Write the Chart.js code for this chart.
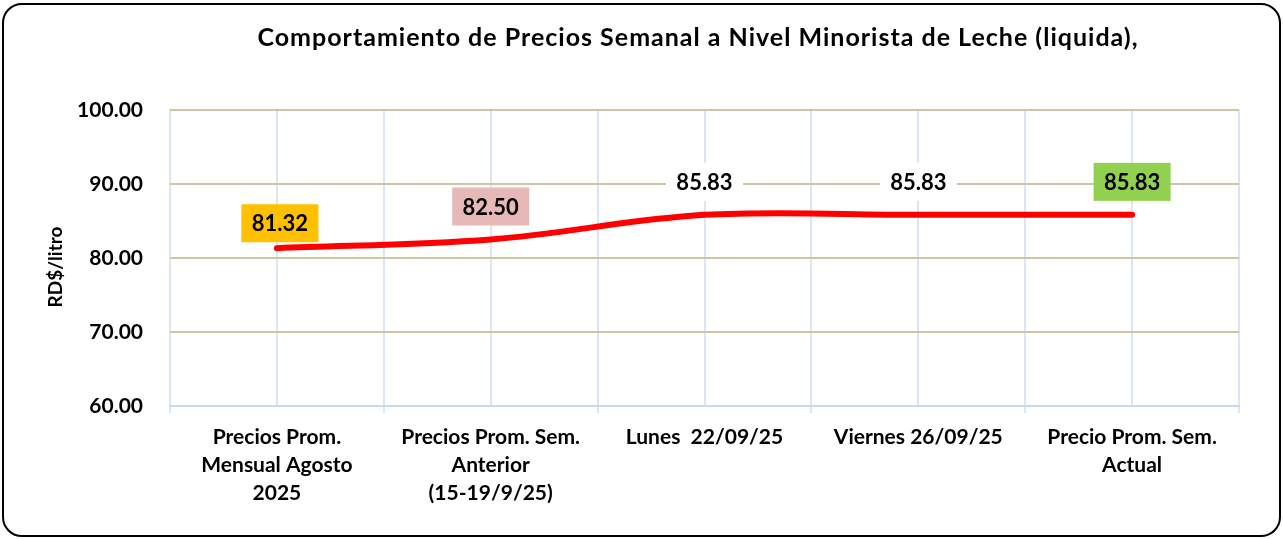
<!DOCTYPE html>
<html>
<head>
<meta charset="utf-8">
<script src="https://cdn.jsdelivr.net/npm/chart.js@4"></script>
<style>
  html, body { margin: 0; padding: 0; background: #fff; }
  #wrap { position: relative; width: 1283px; height: 539px; overflow: hidden; }
  #frame { position: absolute; left: 2px; top: 3px; width: 1275px; height: 530px;
           border: 2px solid #000; border-radius: 20px; box-sizing: content-box; pointer-events: none; }
  canvas { position: absolute; left: 0; top: 0; }
</style>
</head>
<body>
<div id="wrap">
  <canvas id="myChart" width="1283" height="539"></canvas>
  <div id="frame"></div>
</div>
<script>
"use strict";

const chartTitle = "Comportamiento de Precios Semanal a Nivel Minorista de Leche (liquida),";
const yTitle = "RD$/litro";
const categories = [
  ["Precios Prom.", "Mensual Agosto", "2025"],
  ["Precios Prom. Sem.", "Anterior", "(15-19/9/25)"],
  ["Lunes  22/09/25"],
  ["Viernes 26/09/25"],
  ["Precio Prom. Sem.", "Actual"]
];
const prices = [81.32, 82.50, 85.83, 85.83, 85.83];
const yMin = 60;
const yMax = 100;
const yStep = 10;
const labelFills = ["#ffc000", "#e6b9b8", "#ffffff", "#ffffff", "#92d050"];

const FONT = "Lato, 'Open Sans', sans-serif";

// value boxes above the points
const valueLabels = {
  id: "valueLabels",
  afterDatasetsDraw(chart) {
    const ctx = chart.ctx;
    const meta = chart.getDatasetMeta(0);
    const lift = [25, 33, 33, 33, 33];
    ctx.save();
    ctx.font = "bold 22px " + FONT;
    ctx.textAlign = "center";
    ctx.textBaseline = "middle";
    meta.data.forEach(function (pt, i) {
      const x = pt.x + (i === 0 ? 3 : 0);
      const y = pt.y - lift[i];
      ctx.fillStyle = labelFills[i];
      ctx.fillRect(x - 38.5, y - 19, 77, 38);
      ctx.fillStyle = "#000";
      ctx.fillText(prices[i].toFixed(2), x, y + 1);
    });
    ctx.restore();
  }
};

// chart title and y axis title
const titlePlugin = {
  id: "titleText",
  afterDraw(chart) {
    const ctx = chart.ctx;
    ctx.save();
    ctx.font = "bold 25px " + FONT;
    ctx.letterSpacing = "1px";
    ctx.fillStyle = "#000";
    ctx.textAlign = "center";
    ctx.textBaseline = "middle";
    ctx.fillText(chartTitle, 698, 38);
    ctx.restore();

    ctx.save();
    ctx.translate(56, 267);
    ctx.rotate(-Math.PI / 2);
    ctx.font = "bold 19px " + FONT;
    ctx.fillStyle = "#000";
    ctx.textAlign = "center";
    ctx.textBaseline = "middle";
    ctx.fillText(yTitle, 0, 0);
    ctx.restore();
  }
};

const chartConfig = {
  type: "line",
  data: {
    datasets: [
      {
        data: prices.map((v, i) => ({ x: i, y: v })),
        borderColor: "#ff0000",
        borderWidth: 6,
        borderCapStyle: "round",
        pointRadius: 0,
        tension: 0.35,
        fill: false
      }
    ]
  },
  options: {
    responsive: false,
    animation: false,
    layout: { padding: { left: 0, right: 44, top: 110, bottom: 13 } },
    plugins: {
      legend: { display: false },
      tooltip: { enabled: false }
    },
    scales: {
      x: {
        type: "linear",
        min: -0.5,
        max: categories.length - 0.5,
        afterFit: function (scale) { scale.height = 120; },
        afterBuildTicks: function (scale) {
          const t = [];
          for (let v = -0.5; v <= categories.length - 0.5 + 1e-9; v += 0.5) t.push({ value: v });
          scale.ticks = t;
        },
        border: { color: "#c6d9f1", width: 2 },
        grid: {
          color: "#dce6f2",
          lineWidth: 2,
          tickLength: 7,
          tickColor: (c) => (Number.isInteger(c.tick.value) ? "rgba(0,0,0,0)" : "#dce6f2")
        },
        ticks: {
          autoSkip: false,
          maxRotation: 0,
          minRotation: 0,
          padding: 10,
          color: "#000",
          font: { family: FONT, weight: "bold", size: 21, lineHeight: 1.33 },
          callback: (v) => (Number.isInteger(v) ? categories[v] : "")
        }
      },
      y: {
        min: yMin,
        max: yMax,
        afterFit: function (scale) { scale.width = 170; },
        border: { display: false },
        grid: {
          drawTicks: false,
          color: (c) => (c.tick.value === yMin ? "rgba(0,0,0,0)" : "#cdc5a3"),
          lineWidth: 2
        },
        ticks: {
          stepSize: yStep,
          padding: 27,
          color: "#000",
          font: { family: FONT, weight: "bold", size: 21 },
          callback: (v) => v.toFixed(2)
        }
      }
    }
  },
  plugins: [valueLabels, titlePlugin]
};

const myChart = new Chart(document.getElementById("myChart").getContext("2d"), chartConfig);
</script>
</body>
</html>
